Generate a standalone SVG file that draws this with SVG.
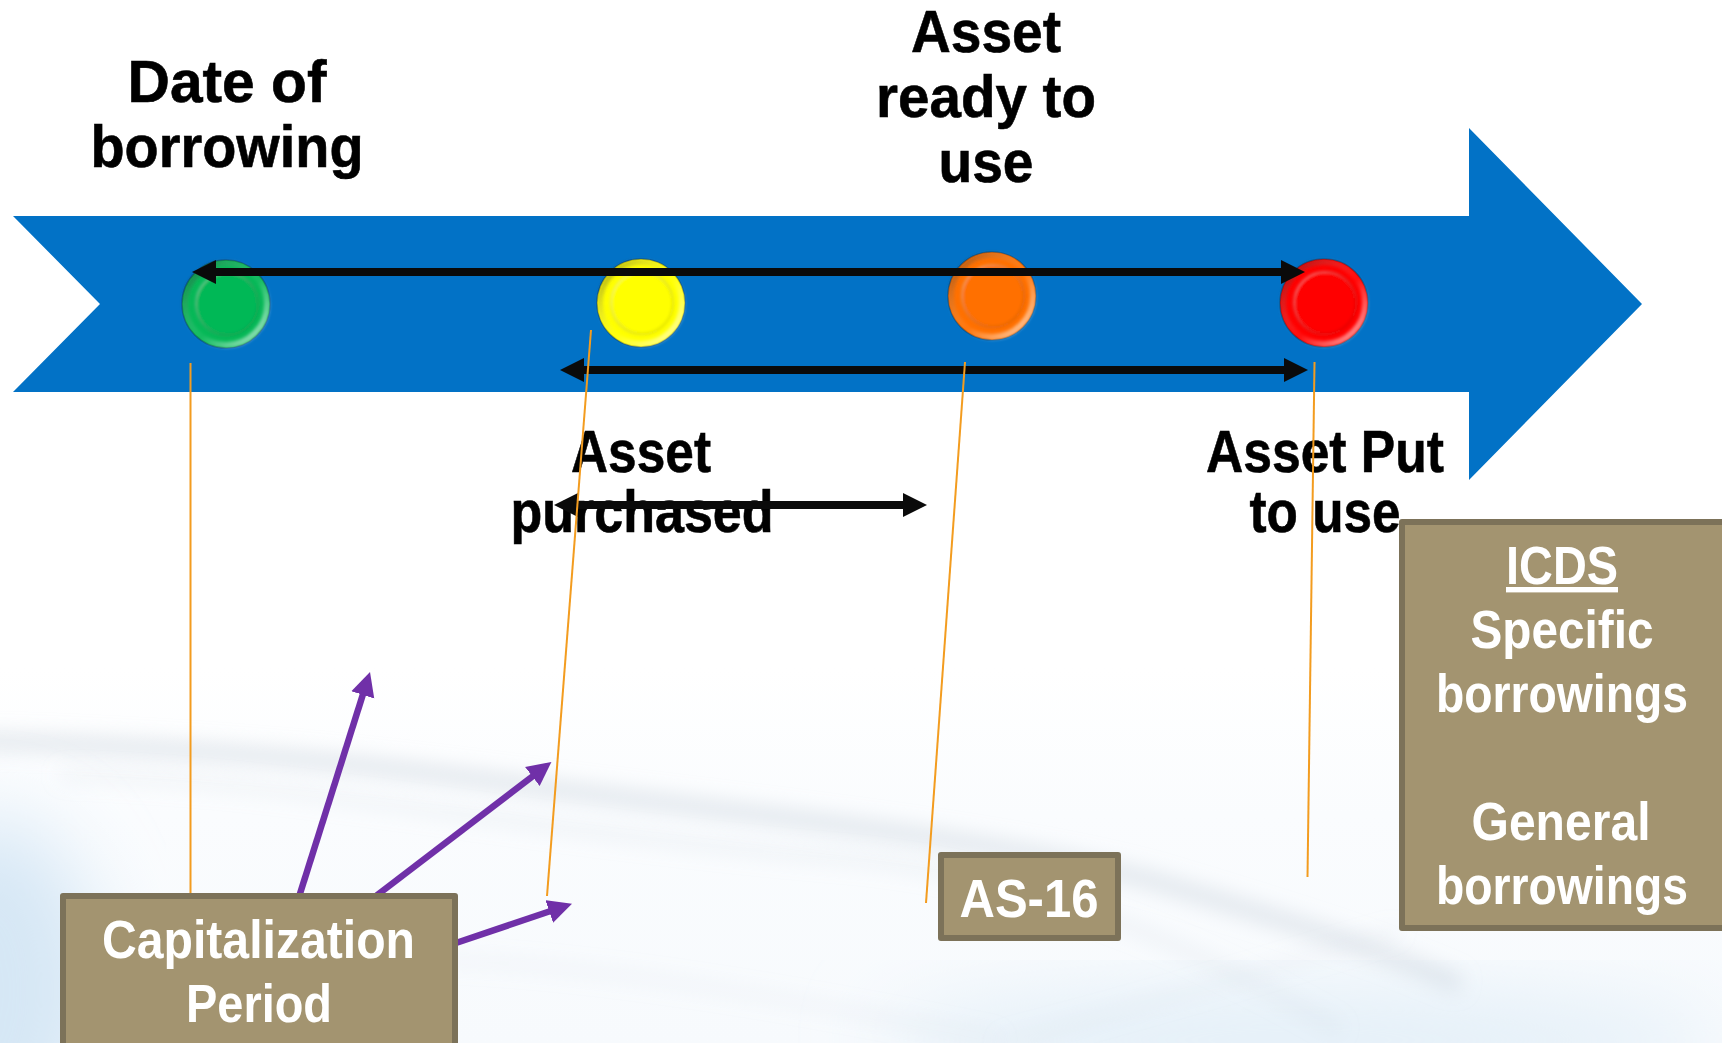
<svg xmlns="http://www.w3.org/2000/svg" width="1722" height="1043" viewBox="0 0 1722 1043">
<style>
text{font-family:"Liberation Sans",Arial,sans-serif;font-weight:700;text-anchor:middle}
.lb{font-size:60px;fill:#000;stroke:#000;stroke-width:.6}
.bt{font-size:54px;fill:#fff}
.box{fill:#A39470;stroke:#7C7259;stroke-width:6;stroke-linejoin:round}
.blk{stroke:#0a0a0a;stroke-width:8;fill:none}
.org{stroke:#F39C1F;stroke-width:2;fill:none}
.pur{stroke:#7030A8;stroke-width:6.500;fill:none}
.streak{fill:none;stroke:#c6cfd9;filter:url(#b)}
</style>
<defs>
<filter id="b" filterUnits="userSpaceOnUse" x="-100" y="600" width="1922" height="500"><feGaussianBlur stdDeviation="10"/></filter>
<filter id="b2" x="-30%" y="-30%" width="160%" height="160%"><feGaussianBlur stdDeviation="40"/></filter>
<filter id="soft" x="-20%" y="-20%" width="140%" height="140%"><feGaussianBlur stdDeviation="1.6"/></filter>
<marker id="hb" markerUnits="userSpaceOnUse" markerWidth="25" markerHeight="25" refX="14" refY="12.5" orient="auto-start-reverse"><path d="M0,0.5 L24,12.5 L0,24.5z" fill="#0a0a0a"/></marker>
<marker id="hp" markerUnits="userSpaceOnUse" markerWidth="25" markerHeight="25" refX="14" refY="12.5" orient="auto"><path d="M0,0.5 L24,12.5 L0,24.5z" fill="#7030A8"/></marker>
<linearGradient id="bg" x1="0" y1="0" x2="0" y2="1"><stop offset="0" stop-color="#fff"/><stop offset="0.64" stop-color="#fff"/><stop offset="0.78" stop-color="#fafcfe"/><stop offset="1" stop-color="#f7fafd"/></linearGradient>
<linearGradient id="sh" x1="0" y1="0" x2="1" y2="1"><stop offset="0" stop-color="#000" stop-opacity=".4"/><stop offset=".55" stop-color="#fff" stop-opacity=".05"/><stop offset="1" stop-color="#fff" stop-opacity=".7"/></linearGradient>
<linearGradient id="sh2" x1="0" y1="0" x2="1" y2="1"><stop offset="0" stop-color="#fff" stop-opacity=".4"/><stop offset="1" stop-color="#000" stop-opacity=".12"/></linearGradient>
<g id="bead">
<circle r="44" fill="currentColor" stroke="#000" stroke-opacity=".25" stroke-width="1.5"/>
<circle r="41" fill="none" stroke="url(#sh)" stroke-width="6" filter="url(#soft)"/>
<circle cx="1" cy="0" r="31" fill="currentColor" stroke="url(#sh2)" stroke-width="2" filter="url(#soft)"/>
</g>
</defs>
<g id="background">
<rect width="1722" height="1043" fill="url(#bg)"/>
<ellipse cx="-10" cy="990" rx="110" ry="170" fill="#d6e7f5" filter="url(#b2)"/>
<ellipse cx="1300" cy="1040" rx="420" ry="50" fill="#e3eff8" filter="url(#b2)"/>
<path class="streak" stroke-width="16" stroke-opacity=".5" d="M-60,740 C200,745 380,765 560,790 C760,815 1000,840 1150,880 C1300,925 1380,950 1460,985"/>
<path class="streak" stroke-width="9" stroke-opacity=".3" d="M60,775 C300,780 500,830 860,860 C1050,880 1200,950 1340,1030"/>
<path class="streak" stroke-width="7" stroke-opacity=".25" d="M440,960 C600,965 800,1000 1000,1040"/>
<path class="streak" stroke-width="7" stroke-opacity=".22" d="M1000,1043 C1130,1010 1230,980 1400,930"/>
</g>
<g id="timeline-arrow">
<path d="M13,216 H1469 V128 L1642,304 L1469,480 V392 H13 L100,304z" fill="#0272C6"/>
</g>
<g id="node-green" color="#06B857"><use href="#bead" x="226" y="304"/></g>
<g id="node-yellow" color="#FFFF00"><use href="#bead" x="641" y="303"/></g>
<g id="node-orange" color="#FF7000"><use href="#bead" x="992" y="296"/></g>
<g id="node-red" color="#FF0000"><use href="#bead" x="1324" y="303"/></g>
<g id="label-date">
<text class="lb" x="227" y="102" textLength="199" lengthAdjust="spacingAndGlyphs">Date of</text>
<text class="lb" x="227" y="167" textLength="273" lengthAdjust="spacingAndGlyphs">borrowing</text>
</g>
<g id="label-ready">
<text class="lb" x="986" y="52" textLength="150" lengthAdjust="spacingAndGlyphs">Asset</text>
<text class="lb" x="986" y="117" textLength="220" lengthAdjust="spacingAndGlyphs">ready to</text>
<text class="lb" x="986" y="182" textLength="95" lengthAdjust="spacingAndGlyphs">use</text>
</g>
<g id="label-purchased">
<text class="lb" x="641" y="472" textLength="140" lengthAdjust="spacingAndGlyphs">Asset</text>
<text class="lb" x="642" y="532" textLength="263" lengthAdjust="spacingAndGlyphs">purchased</text>
</g>
<g id="label-put">
<text class="lb" x="1325" y="472" textLength="238" lengthAdjust="spacingAndGlyphs">Asset Put</text>
<text class="lb" x="1325" y="532" textLength="151" lengthAdjust="spacingAndGlyphs">to use</text>
</g>
<g id="connectors">
<line class="blk" x1="202" y1="272" x2="1295" y2="272" marker-start="url(#hb)" marker-end="url(#hb)"/>
<line class="blk" x1="570" y1="370" x2="1298" y2="370" marker-start="url(#hb)" marker-end="url(#hb)"/>
<line class="blk" x1="564" y1="505" x2="917" y2="505" marker-start="url(#hb)" marker-end="url(#hb)"/>
<line class="org" x1="190.500" y1="363" x2="190.500" y2="895"/>
<line class="org" x1="591" y1="330" x2="547" y2="896"/>
<line class="org" x1="965" y1="362" x2="926" y2="903"/>
<line class="org" x1="1314.500" y1="362" x2="1307.500" y2="877"/>
<line class="pur" x1="298" y1="900" x2="367" y2="681.500" marker-end="url(#hp)"/>
<line class="pur" x1="372" y1="899" x2="543.500" y2="768" marker-end="url(#hp)"/>
<line class="pur" x1="450" y1="945" x2="562.500" y2="907" marker-end="url(#hp)"/>
</g>
<g id="box-capitalization">
<rect class="box" x="63" y="896" width="392" height="160"/>
<text class="bt" x="258.500" y="958" textLength="313" lengthAdjust="spacingAndGlyphs">Capitalization</text>
<text class="bt" x="259" y="1022" textLength="146" lengthAdjust="spacingAndGlyphs">Period</text>
</g>
<g id="box-as16">
<rect class="box" x="941" y="855" width="177" height="83"/>
<text class="bt" x="1029" y="916.500" textLength="139" lengthAdjust="spacingAndGlyphs">AS-16</text>
</g>
<g id="box-icds">
<rect class="box" x="1402" y="522" width="330" height="406"/>
<text class="bt" x="1562" y="584" textLength="112" lengthAdjust="spacingAndGlyphs" text-decoration="underline">ICDS</text>
<text class="bt" x="1562" y="648" textLength="183" lengthAdjust="spacingAndGlyphs">Specific</text>
<text class="bt" x="1562" y="712" textLength="252" lengthAdjust="spacingAndGlyphs">borrowings</text>
<text class="bt" x="1561" y="840" textLength="179" lengthAdjust="spacingAndGlyphs">General</text>
<text class="bt" x="1562" y="904" textLength="252" lengthAdjust="spacingAndGlyphs">borrowings</text>
</g>
</svg>
